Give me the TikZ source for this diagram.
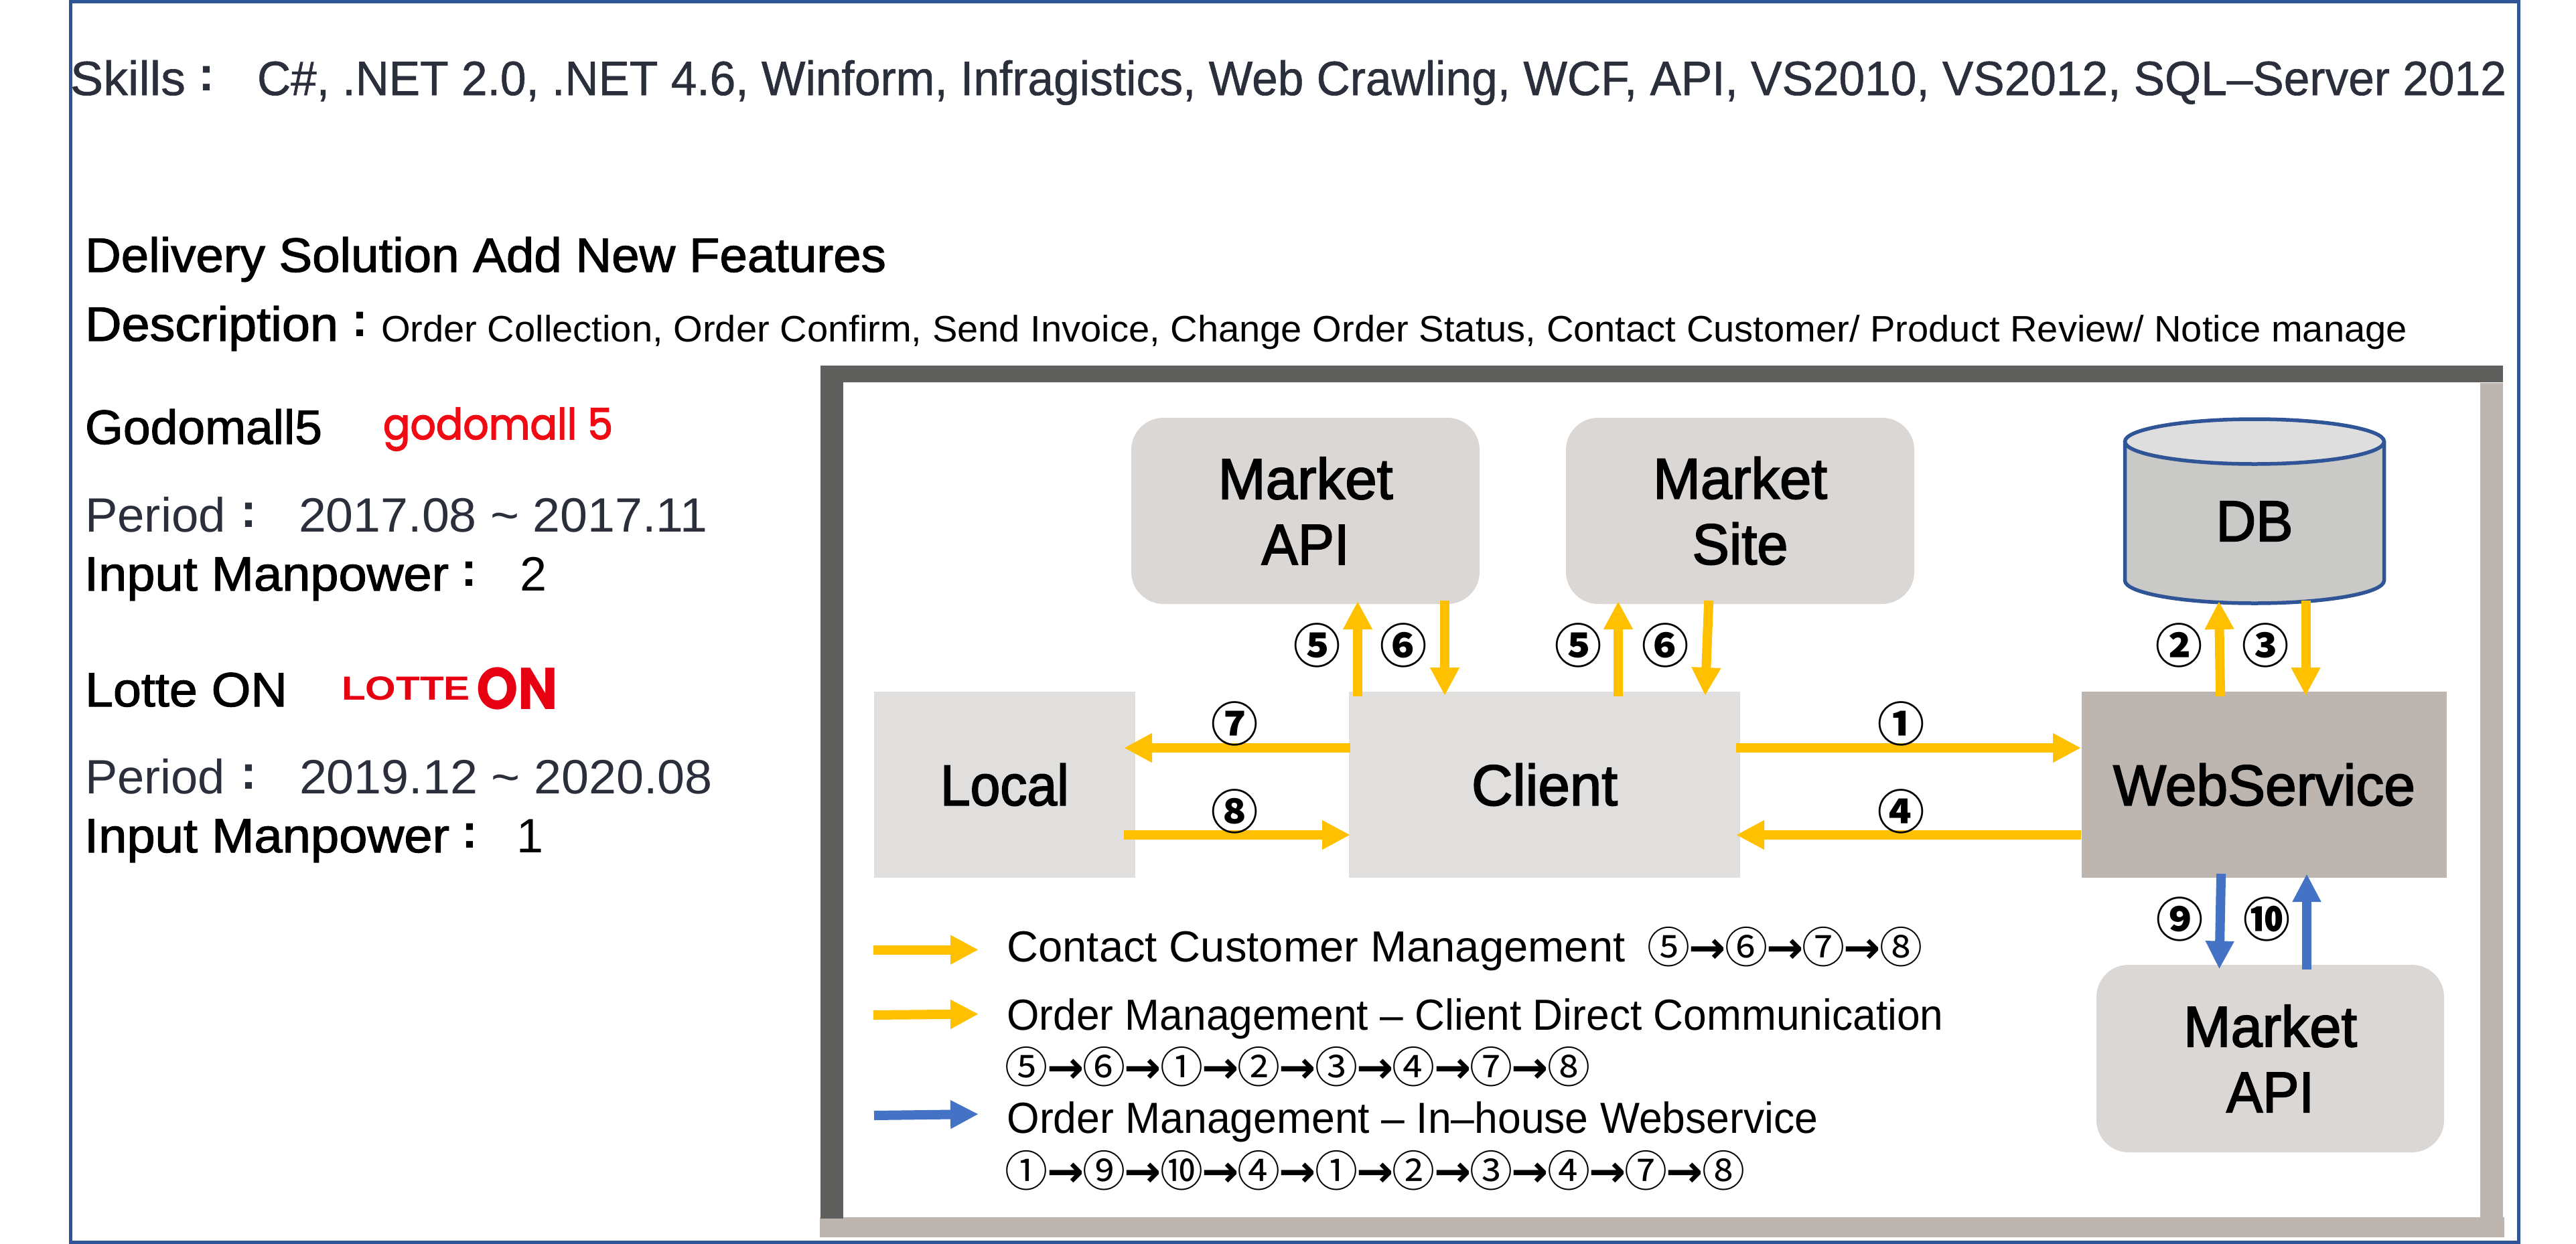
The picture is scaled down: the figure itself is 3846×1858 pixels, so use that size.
\documentclass[tikz,border=0pt]{standalone}
\usepackage{graphicx}
\usepackage{fontspec}
\setmainfont{Liberation Sans}
\newfontfamily\cjk{Noto Sans CJK KR}
\newfontfamily\popm[FakeBold=2.5]{Poppins}
\newfontfamily\pop{Poppins}
\newfontfamily\wta[FakeBold=0.8]{Liberation Sans}
\newfontfamily\wtm[FakeBold=1.6]{Liberation Sans}
\newfontfamily\wtb[FakeBold=2.2]{Liberation Sans}
\newfontfamily\arrowfont{DejaVu Sans Bold}
\usetikzlibrary{arrows.meta}
\newlength\pxu
\setlength\pxu{0.5pt}
\newcommand{\fw}[2]{\resizebox{#1\pxu}{\height}{#2}}
\newcommand{\fsz}[1]{\fontsize{#1}{#1}\selectfont}
\newcommand{\seqarr}{\makebox[28.9pt][c]{\arrowfont\fsz{33}→}}
\newcommand{\seqnum}[1]{\makebox[28.9pt][c]{\cjk\fsz{32}#1}}
\definecolor{frameblue}{HTML}{2F5597}
\definecolor{inkdark}{HTML}{2B2E3B}
\definecolor{shadowdark}{HTML}{5F5F5D}
\definecolor{shadowlight}{HTML}{BDB5AF}
\definecolor{boxround}{HTML}{DAD7D4}
\definecolor{boxplain}{HTML}{E0DFDD}
\definecolor{ayellow}{HTML}{FFC000}
\definecolor{ablue}{HTML}{4472C4}
\definecolor{cylside}{HTML}{C9C9C7}
\definecolor{cyltop}{HTML}{DEDEDE}
\definecolor{godored}{HTML}{F00A14}
\definecolor{lottered}{HTML}{E60012}
\tikzset{
  txt/.style={anchor=base west,inner sep=0pt,outer sep=0pt},
  ctxt/.style={anchor=base,inner sep=0pt,outer sep=0pt},
  big/.style={txt,font=\wtm\fsz{36}},
  skilltext/.style={txt,text=inkdark,font=\wta\fsz{36}},
  plaindark/.style={txt,text=inkdark,font=\fsz{36}},
  plainbig/.style={txt,font=\fsz{36}},
  small/.style={txt,font=\fsz{27.5}},
  legendtext/.style={txt,font=\fsz{32.5}},
  seq/.style={anchor=west,inner sep=0pt,outer sep=0pt},
  num/.style={anchor=center,inner sep=0pt,outer sep=0pt,font=\cjk\bfseries\fsz{35}},
  colonmark/.style={ctxt,font=\bfseries\fsz{36}},
  boxbase/.style={inner sep=0pt,outer sep=0pt,align=center,font=\wtb\fontsize{43}{49}\selectfont,text=black},
  roundbox/.style={boxbase,fill=boxround,rounded corners=24pt,minimum width=520\pxu,minimum height=278\pxu},
  plainbox/.style={boxbase,fill=boxplain,minimum height=278\pxu},
  ya/.style={draw=ayellow,line width=7pt,-{Triangle[length=21pt,width=20.5pt,fill=ayellow]}},
  ba/.style={draw=ablue,line width=7pt,-{Triangle[length=21pt,width=20pt,fill=ablue]}},
}
\begin{document}
\begin{tikzpicture}[x=0.5pt,y=-0.5pt]
\useasboundingbox (0,0) rectangle (3846,1858);
\fill[white] (0,0) rectangle (3846,1858);
% outer frame
\draw[frameblue,line width=2.75pt] (105.5,2.5) rectangle (3760.5,1855.5);
% shadow frame
\fill[shadowlight] (3703,572) rectangle (3737,1820);
\fill[shadowlight] (1224,1818) rectangle (3739,1847.5);
\fill[shadowdark] (1225,545.5) rectangle (3737,571);
\fill[shadowdark] (1225,545.5) rectangle (1259,1820);
% header
\node[skilltext] (skills) at (105,142) {\fw{172}{Skills}};
\node[colonmark,text=inkdark] (skillsc) at (308,135) {:};
\node[skilltext] (skilllist) at (384,142) {\fw{3358}{C\#, .NET 2.0, .NET 4.6, Winform, Infragistics, Web Crawling, WCF, API, VS2010, VS2012, SQL–Server 2012}};
\node[big] (title) at (127,406) {\fw{1196}{Delivery Solution Add New Features}};
\node[big] (desc) at (127,509) {\fw{378}{Description}};
\node[colonmark] (descc) at (537,502) {:};
\node[small] (desctext) at (569,510) {\fw{3025}{Order Collection, Order Confirm, Send Invoice, Change Order Status, Contact Customer/ Product Review/ Notice manage}};
% left column
\node[big] (godo) at (127,663) {\fw{354}{Godomall5}};
\node[txt,text=godored,font=\popm\fsz{32}] (godologo) at (572,656) {\fw{343}{godomall 5}};
\node[plaindark] (per1) at (127,794) {\fw{210}{Period}};
\node[colonmark,text=inkdark] (per1c) at (371,787) {:};
\node[plaindark] (per1v) at (446,794) {\fw{610}{2017.08 \textasciitilde{} 2017.11}};
\node[big] (inp1) at (126,882) {\fw{544}{Input Manpower}};
\node[colonmark] (inp1c) at (700,875) {:};
\node[plainbig] (inp1v) at (776,882) {2};
\node[big] (lotte) at (127,1055) {\fw{302}{Lotte ON}};
\node[txt,text=lottered,font=\bfseries\fsz{25}] (lottelogo) at (510,1045) {\fw{192}{LOTTE}};
\node[txt,text=lottered,font=\pop\bfseries\fsz{44}] (onlogo) at (711,1059) {\fw{122}{ON}};
\node[plaindark] (per2) at (127,1185) {\fw{209}{Period}};
\node[colonmark,text=inkdark] (per2c) at (371,1178) {:};
\node[plaindark] (per2v) at (447,1185) {\fw{617}{2019.12 \textasciitilde{} 2020.08}};
\node[big] (inp2) at (126,1273) {\fw{545}{Input Manpower}};
\node[colonmark] (inp2c) at (701,1266) {:};
\node[plainbig] (inp2v) at (771,1273) {1};
% database body
\draw[frameblue,line width=2.75pt,fill=cylside] (3172.5,659.5) -- (3172.5,867) .. controls (3172.5,885.8) and (3259.1,901) .. (3366,901) .. controls (3472.9,901) and (3559.5,885.8) .. (3559.5,867) -- (3559.5,659.5);
\draw[frameblue,line width=2.75pt,fill=cyltop] (3172.5,659.5) .. controls (3172.5,641) and (3259.1,626) .. (3366,626) .. controls (3472.9,626) and (3559.5,641) .. (3559.5,659.5) .. controls (3559.5,678) and (3472.9,693) .. (3366,693) .. controls (3259.1,693) and (3172.5,678) .. (3172.5,659.5) -- cycle;
% boxes
\node[roundbox] (mapi) at (1949,763) {\fw{261}{Market}\\\fw{131}{API}};
\node[roundbox] (msite) at (2598,763) {\fw{260}{Market}\\\fw{143}{Site}};
\node[plainbox,minimum width=390\pxu] (local) at (1500,1172) {\fw{192}{Local}};
\node[plainbox,minimum width=584\pxu] (client) at (2306,1172) {\fw{218}{Client}};
\node[plainbox,fill=shadowlight,minimum width=545\pxu] (web) at (3380.5,1172) {\fw{451}{WebService}};
\node[roundbox,minimum width=519\pxu,minimum height=280\pxu] (mapib) at (3389.5,1581) {\fw{259}{Market}\\\fw{131}{API}};
\node[boxbase,minimum width=392\pxu,minimum height=281\pxu] (db) at (3366,763.5) {\raisebox{-15\pxu}[\height][\depth]{\fw{115}{DB}}};
% connectors
\draw[ya,shorten <=-7\pxu,shorten >=-4\pxu] (2027,0 |- client.north) -- (2027,0 |- mapi.south);
\draw[ya,shorten <=-5\pxu,shorten >=-6\pxu] (2157,0 |- mapi.south) -- (2157,0 |- client.north);
\draw[ya,shorten <=-7\pxu,shorten >=-4\pxu] (2416,0 |- client.north) -- (2416,0 |- msite.south);
\draw[ya,shorten <=-5\pxu,shorten >=-6\pxu] (2551,0 |- msite.south) -- (2546,0 |- client.north);
\draw[ya,shorten <=-2\pxu,shorten >=-17\pxu] (client.west |- 0,1117) -- (local.east |- 0,1117);
\draw[ya,shorten <=-17\pxu,shorten >=-2\pxu] (local.east |- 0,1247) -- (client.west |- 0,1247);
\draw[ya,shorten <=-6\pxu,shorten >=1\pxu] (client.east |- 0,1117) -- (web.west |- 0,1117);
\draw[ya,shorten <=1\pxu,shorten >=-6\pxu] (web.west |- 0,1247) -- (client.east |- 0,1247);
\draw[ya,shorten <=-7\pxu,shorten >=-6\pxu] (3315,0 |- web.north) -- (3313,0 |- db.south);
\draw[ya,shorten <=-7\pxu,shorten >=-6\pxu] (3442.5,0 |- db.south) -- (3442.5,0 |- web.north);
\draw[ba,shorten <=-6\pxu,shorten >=-6.5\pxu] (3316,0 |- web.south) -- (3313.5,0 |- mapib.north);
\draw[ba,shorten <=-6.5\pxu,shorten >=-6\pxu] (3444,0 |- mapib.north) -- (3444,0 |- web.south);
% numbers
\node[num] (n5a) at (1966,964) {⑤};
\node[num] (n6a) at (2095.5,964) {⑥};
\node[num] (n5b) at (2356,964) {⑤};
\node[num] (n6b) at (2486,964) {⑥};
\node[num] (n7) at (1843,1081) {⑦};
\node[num] (n8) at (1843,1212) {⑧};
\node[num] (n1) at (2838,1081) {①};
\node[num] (n4) at (2838,1212) {④};
\node[num] (n2) at (3253,964) {②};
\node[num] (n3) at (3382,964) {③};
\node[num] (n9) at (3254,1372.5) {⑨};
\node[num] (n10) at (3384,1372.5) {⑩};
% legend
\coordinate (la) at (1304,1418.5);
\coordinate (lb) at (1461,1418.5);
\coordinate (lc) at (1304,1516);
\coordinate (ld) at (1461,1514.5);
\coordinate (le) at (1305,1666);
\coordinate (lf) at (1461,1664);
\draw[ya] (la) -- (lb);
\draw[ya] (lc) -- (ld);
\draw[ba] (le) -- (lf);
\node[legendtext] (lt1) at (1503.5,1436) {\fw{923}{Contact Customer Management}};
\node[seq] (ls1) at (2462.6,1414.6) {\seqnum{⑤}\seqarr\seqnum{⑥}\seqarr\seqnum{⑦}\seqarr\seqnum{⑧}};
\node[legendtext] (lt2) at (1503.5,1538) {\fw{1398}{Order Management – Client Direct Communication}};
\node[seq] (ls2) at (1504,1593.6) {\seqnum{⑤}\seqarr\seqnum{⑥}\seqarr\seqnum{①}\seqarr\seqnum{②}\seqarr\seqnum{③}\seqarr\seqnum{④}\seqarr\seqnum{⑦}\seqarr\seqnum{⑧}};
\node[legendtext] (lt3) at (1503.5,1692.5) {\fw{1211}{Order Management – In–house Webservice}};
\node[seq] (ls3) at (1504,1747.7) {\seqnum{①}\seqarr\seqnum{⑨}\seqarr\seqnum{⑩}\seqarr\seqnum{④}\seqarr\seqnum{①}\seqarr\seqnum{②}\seqarr\seqnum{③}\seqarr\seqnum{④}\seqarr\seqnum{⑦}\seqarr\seqnum{⑧}};
\end{tikzpicture}
\end{document}
